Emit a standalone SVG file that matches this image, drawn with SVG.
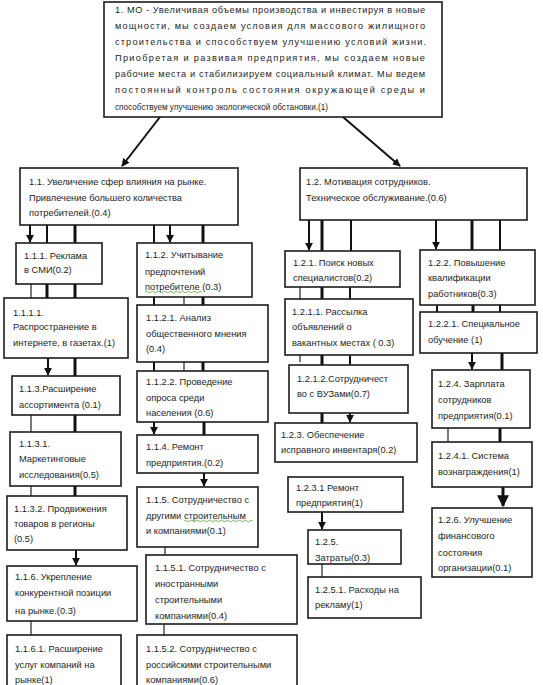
<svg xmlns="http://www.w3.org/2000/svg" width="543" height="685" viewBox="0 0 543 685">
<defs>
<style>
.box{fill:#fff;stroke:#1c1c1c;stroke-width:1.6}
.t{font-family:"Liberation Sans","DejaVu Sans",sans-serif;font-size:9.3px;fill:#1e1e1e}
.tt{font-family:"Liberation Sans","DejaVu Sans",sans-serif;font-size:9.2px;fill:#1e1e1e}
.c{stroke:#111;stroke-width:2;fill:none}
.k{stroke:#111;stroke-width:3;fill:none}
.n{stroke:#222;stroke-width:1.2;fill:none}
.sq{stroke:#5aa03c;stroke-width:0.8;fill:none}
</style>
<marker id="ah" viewBox="0 0 10 10" refX="9" refY="5" markerWidth="4" markerHeight="4" orient="auto" markerUnits="strokeWidth">
<path d="M0,0 L10,5 L0,10 z" fill="#111"/>
</marker>
</defs>
<rect width="543" height="685" fill="#fff"/>

<g id="connectors">
<line class="c" x1="160" y1="117" x2="122" y2="166" marker-end="url(#ah)"/>
<line class="c" x1="343" y1="117" x2="400" y2="166" marker-end="url(#ah)"/>
<line class="c" x1="30" y1="225" x2="30" y2="242" marker-end="url(#ah)"/>
<line class="c" x1="47" y1="225" x2="47" y2="243"/>
<line class="k" x1="75" y1="225" x2="75" y2="243"/>
<line class="c" x1="154" y1="225" x2="154" y2="243"/>
<line class="c" x1="170" y1="225" x2="170" y2="242" marker-end="url(#ah)"/>
<line class="k" x1="203" y1="225" x2="203" y2="243"/>
<line class="n" x1="31" y1="284" x2="31" y2="298"/>
<line class="k" x1="47" y1="284" x2="47" y2="298"/>
<line class="k" x1="75" y1="284" x2="75" y2="298"/>
<line class="c" x1="154" y1="297" x2="154" y2="305"/>
<line class="n" x1="184" y1="297" x2="184" y2="305"/>
<line class="k" x1="203" y1="297" x2="203" y2="305"/>
<line class="c" x1="48" y1="358" x2="48" y2="375" marker-end="url(#ah)"/>
<line class="k" x1="75" y1="358" x2="75" y2="376"/>
<line class="c" x1="154" y1="362" x2="154" y2="371"/>
<line class="n" x1="184" y1="362" x2="184" y2="371"/>
<line class="k" x1="203" y1="362" x2="203" y2="371"/>
<line class="n" x1="31" y1="415" x2="31" y2="432"/>
<line class="k" x1="75" y1="415" x2="75" y2="432"/>
<line class="c" x1="154" y1="422" x2="154" y2="434" marker-end="url(#ah)"/>
<line class="k" x1="204" y1="422" x2="204" y2="435"/>
<line class="n" x1="31" y1="486" x2="31" y2="496"/>
<line class="k" x1="75" y1="486" x2="75" y2="496"/>
<line class="c" x1="204" y1="473" x2="204" y2="486" marker-end="url(#ah)"/>
<line class="c" x1="76" y1="550" x2="76" y2="565" marker-end="url(#ah)"/>
<line class="n" x1="165" y1="547" x2="165" y2="555"/>
<line class="n" x1="31" y1="621" x2="31" y2="635"/>
<line class="n" x1="164" y1="624" x2="164" y2="635"/>
<line class="c" x1="309" y1="220" x2="309" y2="250" marker-end="url(#ah)"/>
<line class="k" x1="322" y1="220" x2="322" y2="251"/>
<line class="c" x1="351" y1="220" x2="351" y2="251"/>
<line class="c" x1="436" y1="220" x2="436" y2="249" marker-end="url(#ah)"/>
<line class="k" x1="472" y1="220" x2="472" y2="250"/>
<line class="c" x1="500" y1="220" x2="500" y2="250"/>
<line class="n" x1="300" y1="287" x2="300" y2="299"/>
<line class="k" x1="322" y1="287" x2="322" y2="299"/>
<line class="c" x1="350" y1="287" x2="350" y2="299"/>
<line class="c" x1="437" y1="305" x2="437" y2="312"/>
<line class="k" x1="473" y1="305" x2="473" y2="312"/>
<line class="c" x1="500" y1="305" x2="500" y2="312"/>
<line class="n" x1="309" y1="336" x2="309" y2="347"/>
<line class="n" x1="322" y1="336" x2="322" y2="347"/>
<line class="n" x1="300" y1="355" x2="300" y2="362"/>
<line class="k" x1="322" y1="355" x2="322" y2="365"/>
<line class="c" x1="350" y1="355" x2="350" y2="365"/>
<line class="c" x1="472" y1="353" x2="472" y2="369" marker-end="url(#ah)"/>
<line class="k" x1="502" y1="353" x2="502" y2="370"/>
<line class="k" x1="322" y1="413" x2="322" y2="423"/>
<line class="c" x1="350" y1="413" x2="350" y2="422" marker-end="url(#ah)"/>
<line class="n" x1="448" y1="428" x2="448" y2="442"/>
<line class="k" x1="500" y1="428" x2="500" y2="442"/>
<line class="k" x1="503" y1="487" x2="503" y2="506" marker-end="url(#ah)"/>
<line class="c" x1="322" y1="512" x2="322" y2="529" marker-end="url(#ah)"/>
<line class="n" x1="322" y1="564" x2="322" y2="577"/>
</g>

<g id="n1">
<rect class="box" x="104" y="2" width="338" height="115"/>
<text class="tt" x="115" y="13" textLength="310" lengthAdjust="spacing">1. МО - Увеличивая объемы производства и инвестируя в новые</text>
<text class="tt" x="115" y="29" textLength="310" lengthAdjust="spacing">мощности, мы создаем условия для массового жилищного</text>
<text class="tt" x="115" y="45" textLength="311" lengthAdjust="spacing">строительства и способствуем улучшению условий жизни.</text>
<text class="tt" x="115" y="61" textLength="310" lengthAdjust="spacing">Приобретая и развивая предприятия, мы создаем новые</text>
<text class="tt" x="115" y="77" textLength="310" lengthAdjust="spacing">рабочие места и стабилизируем социальный климат. Мы ведем</text>
<text class="tt" x="115" y="93" textLength="310" lengthAdjust="spacing">постоянный контроль состояния окружающей среды и</text>
<text class="tt" x="115" y="109.5" textLength="213" lengthAdjust="spacingAndGlyphs">способствуем улучшению экологической обстановки.(1)</text>
</g>

<g id="n1_1">
<rect class="box" x="20" y="168" width="218" height="57"/>
<text class="t" x="29" y="184.5">1.1. Увеличение сфер влияния на рынке.</text>
<text class="t" x="29" y="200.5">Привлечение большего количества</text>
<text class="t" x="29" y="215.5">потребителей.(0.4)</text>
</g>
<g id="n1_2">
<rect class="box" x="300" y="168" width="227" height="52"/>
<text class="t" x="306" y="184.5">1.2. Мотивация сотрудников.</text>
<text class="t" x="306" y="200.5">Техническое обслуживание.(0.6)</text>
</g>

<g id="n1_1_1">
<rect class="box" x="16" y="243" width="86" height="41"/>
<text class="t" x="24" y="258.5">1.1.1. Реклама</text>
<text class="t" x="24" y="272.5">в СМИ(0.2)</text>
</g>
<g id="n1_1_2">
<rect class="box" x="137" y="243" width="115" height="54"/>
<text class="t" x="145" y="257.5">1.1.2. Учитывание</text>
<text class="t" x="145" y="274.5">предпочтений</text>
<text class="t" x="145" y="289.5">потребителе (0.3)</text>
<path class="sq" d="M145,292 q1.5,-1.5 3,0 t3,0 t3,0 t3,0 t3,0 t3,0 t3,0 t3,0 t3,0 t3,0 t3,0 t3,0 t3,0 t3,0 t3,0 t3,0 t3,0 t3,0 t3,0"/>
</g>
<g id="n1_1_1_1">
<rect class="box" x="4" y="298" width="124" height="60"/>
<text class="t" x="13" y="316">1.1.1.1.</text>
<text class="t" x="13" y="330">Распространение в</text>
<text class="t" x="13" y="345.5">интернете, в газетах.(1)</text>
</g>
<g id="n1_1_2_1">
<rect class="box" x="137" y="305" width="131" height="57"/>
<text class="t" x="146" y="320.5">1.1.2.1. Анализ</text>
<text class="t" x="146" y="336.5">общественного мнения</text>
<text class="t" x="146" y="351.5">(0.4)</text>
</g>
<g id="n1_1_3">
<rect class="box" x="12" y="376" width="108" height="39"/>
<text class="t" x="19" y="391.5">1.1.3.Расширение</text>
<text class="t" x="19" y="407.5">ассортимента (0.1)</text>
</g>
<g id="n1_1_2_2">
<rect class="box" x="137" y="371" width="131" height="51"/>
<text class="t" x="146" y="384.5">1.1.2.2. Проведение</text>
<text class="t" x="146" y="400.5">опроса среди</text>
<text class="t" x="146" y="415.5">населения (0.6)</text>
</g>
<g id="n1_1_3_1">
<rect class="box" x="10" y="432" width="111" height="54"/>
<text class="t" x="19" y="446.5">1.1.3.1.</text>
<text class="t" x="19" y="461.5">Маркетинговые</text>
<text class="t" x="19" y="477.5">исследования(0.5)</text>
</g>
<g id="n1_1_4">
<rect class="box" x="137" y="435" width="121" height="38"/>
<text class="t" x="146" y="449.5">1.1.4. Ремонт</text>
<text class="t" x="146" y="465.5">предприятия.(0.2)</text>
</g>
<g id="n1_1_3_2">
<rect class="box" x="7" y="496" width="120" height="54"/>
<text class="t" x="14" y="511.5">1.1.3.2. Продвижения</text>
<text class="t" x="14" y="526.5">товаров в регионы</text>
<text class="t" x="14" y="541.5">(0.5)</text>
</g>
<g id="n1_1_5">
<rect class="box" x="137" y="487" width="121" height="60"/>
<text class="t" x="146" y="502.5">1.1.5. Сотрудничество с</text>
<text class="t" x="146" y="518.5">другими строительным</text>
<text class="t" x="146" y="533.5">и компаниями(0.1)</text>
<path class="sq" d="M184,521 q1.5,-1.5 3,0 t3,0 t3,0 t3,0 t3,0 t3,0 t3,0 t3,0 t3,0 t3,0 t3,0 t3,0 t3,0 t3,0 t3,0 t3,0 t3,0 t3,0 t3,0 t3,0 t3,0 t3,0 t3,0"/>
</g>
<g id="n1_1_6">
<rect class="box" x="7" y="566" width="130" height="55"/>
<text class="t" x="15" y="580">1.1.6. Укрепление</text>
<text class="t" x="15" y="596">конкурентной позиции</text>
<text class="t" x="15" y="614">на рынке.(0.3)</text>
</g>
<g id="n1_1_6_1">
<rect class="box" x="7" y="635" width="114" height="56"/>
<text class="t" x="15" y="651.5">1.1.6.1. Расширение</text>
<text class="t" x="15" y="667.5">услуг компаний на</text>
<text class="t" x="15" y="682.5">рынке(1)</text>
</g>
<g id="n1_1_5_1">
<rect class="box" x="146" y="555" width="151" height="69"/>
<text class="t" x="155" y="570.5">1.1.5.1. Сотрудничество с</text>
<text class="t" x="155" y="586.5">иностранными</text>
<text class="t" x="155" y="602.5">строительными</text>
<text class="t" x="155" y="618.5">компаниями(0.4)</text>
</g>
<g id="n1_1_5_2">
<rect class="box" x="137" y="635" width="160" height="56"/>
<text class="t" x="146" y="651.5">1.1.5.2. Сотрудничество с</text>
<text class="t" x="146" y="667.5">российскими строительными</text>
<text class="t" x="146" y="682.5">компаниями(0.6)</text>
</g>

<g id="n1_2_1">
<rect class="box" x="285" y="251" width="115" height="36"/>
<text class="t" x="293" y="265.5">1.2.1. Поиск новых</text>
<text class="t" x="293" y="280.5">специалистов(0.2)</text>
</g>
<g id="n1_2_2">
<rect class="box" x="420" y="250" width="115" height="55"/>
<text class="t" x="428" y="265.5">1.2.2. Повышение</text>
<text class="t" x="428" y="280.5">квалификации</text>
<text class="t" x="428" y="296.5">работников(0.3)</text>
</g>
<g id="n1_2_1_1">
<rect class="box" x="285" y="299" width="128" height="56"/>
<text class="t" x="292" y="314.5">1.2.1.1. Рассылка</text>
<text class="t" x="292" y="329.5">объявлений о</text>
<text class="t" x="292" y="345.5">вакантных местах ( 0.3)</text>
</g>
<g id="n1_2_2_1">
<rect class="box" x="420" y="312" width="117" height="41"/>
<text class="t" x="428" y="326.5">1.2.2.1. Специальное</text>
<text class="t" x="428" y="342.5">обучение (1)</text>
</g>
<g id="n1_2_1_2">
<rect class="box" x="289" y="365" width="119" height="48"/>
<text class="t" x="297" y="381.5">1.2.1.2.Сотрудничест</text>
<text class="t" x="297" y="396.5">во с ВУЗами(0.7)</text>
</g>
<g id="n1_2_4">
<rect class="box" x="432" y="370" width="98" height="58"/>
<text class="t" x="438" y="386.5">1.2.4. Зарплата</text>
<text class="t" x="438" y="402.5">сотрудников</text>
<text class="t" x="438" y="418.5">предприятия(0.1)</text>
</g>
<g id="n1_2_3">
<rect class="box" x="275" y="423" width="142" height="39"/>
<text class="t" x="281" y="437.5">1.2.3. Обеспечение</text>
<text class="t" x="281" y="452.5">исправного инвентаря(0.2)</text>
</g>
<g id="n1_2_4_1">
<rect class="box" x="432" y="442" width="100" height="45"/>
<text class="t" x="438" y="458.5">1.2.4.1. Система</text>
<text class="t" x="438" y="474.5">вознаграждения(1)</text>
</g>
<g id="n1_2_3_1">
<rect class="box" x="288" y="477" width="115" height="35"/>
<text class="t" x="296" y="490.5">1.2.3.1 Ремонт</text>
<text class="t" x="296" y="505.5">предприятия(1)</text>
</g>
<g id="n1_2_6">
<rect class="box" x="432" y="508" width="100" height="69"/>
<text class="t" x="438" y="522.5">1.2.6. Улучшение</text>
<text class="t" x="438" y="538.5">финансового</text>
<text class="t" x="438" y="555.5">состояния</text>
<text class="t" x="438" y="570.5">организации(0.1)</text>
</g>
<g id="n1_2_5">
<rect class="box" x="308" y="530" width="93" height="34"/>
<text class="t" x="315" y="544.5">1.2.5.</text>
<text class="t" x="315" y="560.5">Затраты(0.3)</text>
</g>
<g id="n1_2_5_1">
<rect class="box" x="308" y="577" width="113" height="41"/>
<text class="t" x="315" y="592.5">1.2.5.1. Расходы на</text>
<text class="t" x="315" y="607.5">рекламу(1)</text>
</g>
</svg>
